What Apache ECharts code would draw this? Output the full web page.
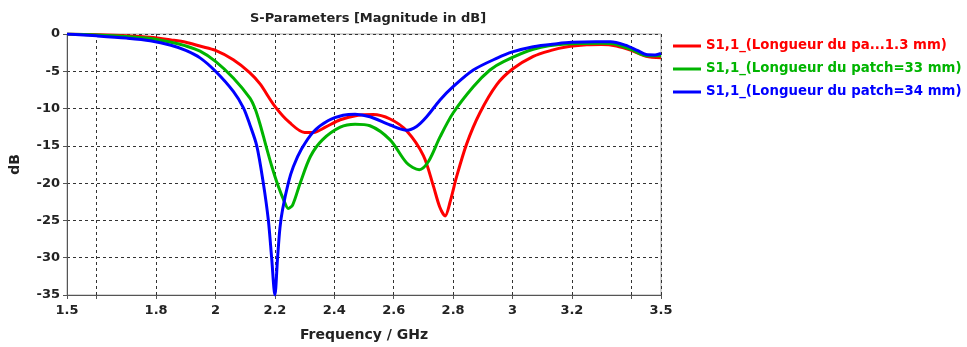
<!DOCTYPE html>
<html>
<head>
<meta charset="utf-8">
<script src="https://cdn.jsdelivr.net/npm/echarts@6/dist/echarts.min.js"></script>
<style>
html,body{margin:0;padding:0;background:#fff;}
#c{width:967px;height:347px;}
</style>
</head>
<body>
<div id="c"></div>
<script>
var seriesNames = [
  'S1,1_(Longueur du pa...1.3 mm)',
  'S1,1_(Longueur du patch=33 mm)',
  'S1,1_(Longueur du patch=34 mm)'
];
var xTicks = [1.5, 1.6, 1.8, 2, 2.2, 2.4, 2.6, 2.8, 3, 3.2, 3.4, 3.5];
var xTickLabels = [1.5, 1.8, 2, 2.2, 2.4, 2.6, 2.8, 3, 3.2, 3.5];

var freqRed = [1.5, 1.6, 1.7, 1.78, 1.85, 1.9, 1.95, 2.0, 2.06, 2.116, 2.15, 2.2, 2.25, 2.3, 2.33, 2.37, 2.42, 2.48, 2.53, 2.588, 2.644, 2.7, 2.733, 2.755, 2.773, 2.79, 2.812, 2.846, 2.89, 2.947, 3.0, 3.07, 3.13, 3.18, 3.25, 3.3, 3.35, 3.4, 3.45, 3.5];
var dbRed = [0, -0.1, -0.25, -0.45, -0.8, -1.1, -1.65, -2.2, -3.45, -5.2, -6.7, -9.7, -11.9, -13.2, -13.2, -12.5, -11.5, -10.9, -10.8, -11.4, -13.0, -16.3, -20.3, -23.2, -24.4, -22.5, -19.1, -14.7, -10.6, -6.8, -4.7, -3.0, -2.2, -1.75, -1.45, -1.4, -1.6, -2.2, -3.0, -3.2];

var freqGreen = [1.5, 1.6, 1.7, 1.78, 1.85, 1.9, 1.948, 2.0, 2.06, 2.116, 2.133, 2.15, 2.17, 2.19, 2.212, 2.23, 2.245, 2.26, 2.285, 2.32, 2.36, 2.42, 2.47, 2.52, 2.588, 2.644, 2.686, 2.717, 2.756, 2.8, 2.868, 2.924, 2.97, 3.07, 3.18, 3.3, 3.35, 3.4, 3.45, 3.5];
var dbGreen = [0, -0.15, -0.35, -0.6, -1.1, -1.6, -2.3, -3.66, -5.9, -8.6, -10.0, -12.1, -15.0, -17.8, -20.5, -22.3, -23.4, -22.9, -20.0, -16.4, -14.2, -12.5, -12.1, -12.3, -14.2, -17.3, -18.2, -17.1, -13.8, -10.6, -7.07, -4.83, -3.7, -2.05, -1.34, -1.25, -1.4, -2.1, -2.9, -2.9];

var freqBlue = [1.5, 1.6, 1.7, 1.78, 1.85, 1.9, 1.948, 2.0, 2.06, 2.094, 2.116, 2.139, 2.161, 2.178, 2.189, 2.2, 2.209, 2.217, 2.226, 2.245, 2.262, 2.29, 2.33, 2.38, 2.43, 2.47, 2.52, 2.588, 2.644, 2.677, 2.711, 2.756, 2.8, 2.868, 2.95, 3.0, 3.07, 3.15, 3.2, 3.28, 3.33, 3.38, 3.42, 3.45, 3.48, 3.5];
var dbBlue = [0, -0.25, -0.55, -0.9, -1.5, -2.2, -3.2, -5.0, -7.7, -9.9, -12.2, -15.0, -20.0, -25.0, -30.0, -35.0, -30.0, -26.0, -23.5, -20.0, -17.8, -15.4, -13.1, -11.6, -10.9, -10.75, -11.1, -12.2, -12.9, -12.4, -11.1, -8.85, -7.07, -4.83, -3.2, -2.4, -1.7, -1.3, -1.12, -1.03, -1.03, -1.5, -2.2, -2.75, -2.8, -2.6];

var colors = ['#ff0000', '#00b400', '#0000ff'];
var FONT = 'DejaVu Sans';

function pairs(xs, ys){ return xs.map(function(x,i){ return [x, ys[i]]; }); }

var chart = echarts.init(document.getElementById('c'), null, {renderer:'canvas'});
chart.setOption({
  animation: false,
  backgroundColor: '#fff',
  title: {
    text: 'S-Parameters [Magnitude in dB]',
    left: 363, top: 7, textAlign: 'center',
    textStyle: {fontFamily: FONT, fontWeight: 'bold', fontSize: 13, color: '#222'}
  },
  legend: {
    orient: 'vertical',
    left: 668, top: 33,
    itemWidth: 28, itemHeight: 3, itemGap: 7,
    icon: 'rect',
    textStyle: {fontFamily: FONT, fontWeight: 'bold', fontSize: 13.3, lineHeight: 16},
    data: seriesNames.map(function(n,i){ return {name: n, textStyle: {color: colors[i]}}; })
  },
  grid: {left: 67, right: 306, top: 34, bottom: 52, show: true, borderColor: '#aaa', borderWidth: 1},
  xAxis: {
    type: 'value', min: 1.5, max: 3.5,
    name: 'Frequency / GHz', nameLocation: 'middle', nameGap: 33,
    nameTextStyle: {fontFamily: FONT, fontWeight: 'bold', fontSize: 14, color: '#222'},
    axisLine: {show: true, onZero: false, lineStyle: {color: '#555', width: 1}},
    axisTick: {show: true, length: 4, customValues: xTicks, lineStyle: {color: '#555'}},
    axisLabel: {customValues: xTickLabels, fontFamily: FONT, fontWeight: 'bold', fontSize: 13, color: '#222', margin: 9},
    splitLine: {show: true, lineStyle: {color: '#333', type: [3, 3], width: 1}}
  },
  yAxis: {
    type: 'value', min: -35, max: 0, interval: 5,
    name: 'dB', nameLocation: 'middle', nameGap: 45, nameRotate: 90,
    nameTextStyle: {fontFamily: FONT, fontWeight: 'bold', fontSize: 14, color: '#222'},
    axisLine: {show: true, onZero: false, lineStyle: {color: '#555', width: 1}},
    axisTick: {show: true, length: 4, lineStyle: {color: '#555'}},
    axisLabel: {fontFamily: FONT, fontWeight: 'bold', fontSize: 13, color: '#222', margin: 7},
    splitLine: {show: true, lineStyle: {color: '#333', type: [3, 3], width: 1}}
  },
  series: [
    {name: seriesNames[0], type: 'line', data: pairs(freqRed, dbRed)},
    {name: seriesNames[1], type: 'line', data: pairs(freqGreen, dbGreen)},
    {name: seriesNames[2], type: 'line', data: pairs(freqBlue, dbBlue)}
  ].map(function(s,i){
    s.smooth = 0.3; s.showSymbol = false; s.symbol = 'none';
    s.lineStyle = {width: 3, color: colors[i]};
    s.itemStyle = {color: colors[i]};
    return s;
  })
});
</script>
</body>
</html>
